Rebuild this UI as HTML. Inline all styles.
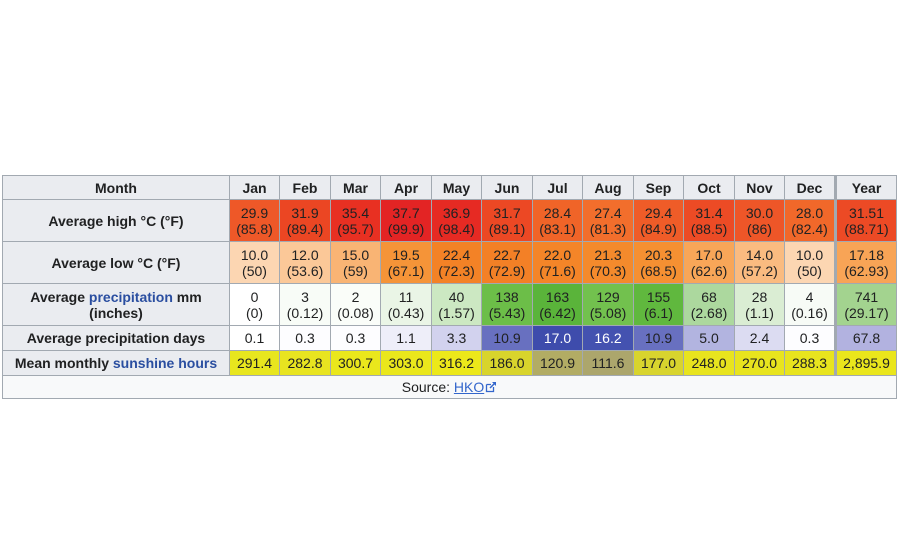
<!DOCTYPE html>
<html>
<head>
<meta charset="utf-8">
<style>
html,body{margin:0;padding:0;background:#fff;}
body{width:900px;height:550px;position:relative;overflow:hidden;font-family:"Liberation Sans",Arial,sans-serif;font-size:14px;color:#202122;}
#t{position:absolute;left:2px;top:175px;width:895px;height:224px;background:#a2a9b1;}
.c{position:absolute;display:flex;align-items:center;justify-content:center;text-align:center;line-height:16px;box-sizing:border-box;white-space:nowrap;}
.h{background:#eaecf0;font-weight:bold;}
.l{color:#2a4ea0;}
.w{color:#fff;}
</style>
</head>
<body>
<div id="t"></div>

<!-- header row: y 176-199 -->
<div class="c h" style="left:3px;top:176px;width:226px;height:23px;">Month</div>
<div class="c h" style="left:230px;top:176px;width:49px;height:23px;">Jan</div>
<div class="c h" style="left:280px;top:176px;width:50px;height:23px;">Feb</div>
<div class="c h" style="left:331px;top:176px;width:49px;height:23px;">Mar</div>
<div class="c h" style="left:381px;top:176px;width:50px;height:23px;">Apr</div>
<div class="c h" style="left:432px;top:176px;width:49px;height:23px;">May</div>
<div class="c h" style="left:482px;top:176px;width:50px;height:23px;">Jun</div>
<div class="c h" style="left:533px;top:176px;width:49px;height:23px;">Jul</div>
<div class="c h" style="left:583px;top:176px;width:50px;height:23px;">Aug</div>
<div class="c h" style="left:634px;top:176px;width:49px;height:23px;">Sep</div>
<div class="c h" style="left:684px;top:176px;width:50px;height:23px;">Oct</div>
<div class="c h" style="left:735px;top:176px;width:49px;height:23px;">Nov</div>
<div class="c h" style="left:785px;top:176px;width:49px;height:23px;">Dec</div>
<div class="c h" style="left:837px;top:176px;width:59px;height:23px;">Year</div>

<!-- high row -->
<div class="c h" style="left:3px;top:200px;width:226px;height:41px;">Average high °C (°F)</div>
<div class="c" style="left:230px;top:200px;width:49px;height:41px;background:rgb(238,88,40);"><div>29.9<br>(85.8)</div></div>
<div class="c" style="left:280px;top:200px;width:50px;height:41px;background:rgb(235,70,35);"><div>31.9<br>(89.4)</div></div>
<div class="c" style="left:331px;top:200px;width:49px;height:41px;background:rgb(232,48,34);"><div>35.4<br>(95.7)</div></div>
<div class="c" style="left:381px;top:200px;width:50px;height:41px;background:rgb(227,36,36);"><div>37.7<br>(99.9)</div></div>
<div class="c" style="left:432px;top:200px;width:49px;height:41px;background:rgb(230,42,35);"><div>36.9<br>(98.4)</div></div>
<div class="c" style="left:482px;top:200px;width:50px;height:41px;background:rgb(236,72,36);"><div>31.7<br>(89.1)</div></div>
<div class="c" style="left:533px;top:200px;width:49px;height:41px;background:rgb(240,100,40);"><div>28.4<br>(83.1)</div></div>
<div class="c" style="left:583px;top:200px;width:50px;height:41px;background:rgb(242,110,44);"><div>27.4<br>(81.3)</div></div>
<div class="c" style="left:634px;top:200px;width:49px;height:41px;background:rgb(239,92,40);"><div>29.4<br>(84.9)</div></div>
<div class="c" style="left:684px;top:200px;width:50px;height:41px;background:rgb(236,75,37);"><div>31.4<br>(88.5)</div></div>
<div class="c" style="left:735px;top:200px;width:49px;height:41px;background:rgb(238,86,40);"><div>30.0<br>(86)</div></div>
<div class="c" style="left:785px;top:200px;width:49px;height:41px;background:rgb(241,104,42);"><div>28.0<br>(82.4)</div></div>
<div class="c" style="left:837px;top:200px;width:59px;height:41px;background:rgb(236,74,37);"><div>31.51<br>(88.71)</div></div>

<!-- low row -->
<div class="c h" style="left:3px;top:242px;width:226px;height:41px;">Average low °C (°F)</div>
<div class="c" style="left:230px;top:242px;width:49px;height:41px;background:rgb(252,214,178);"><div>10.0<br>(50)</div></div>
<div class="c" style="left:280px;top:242px;width:50px;height:41px;background:rgb(251,200,152);"><div>12.0<br>(53.6)</div></div>
<div class="c" style="left:331px;top:242px;width:49px;height:41px;background:rgb(249,180,116);"><div>15.0<br>(59)</div></div>
<div class="c" style="left:381px;top:242px;width:50px;height:41px;background:rgb(245,148,56);"><div>19.5<br>(67.1)</div></div>
<div class="c" style="left:432px;top:242px;width:49px;height:41px;background:rgb(243,130,38);"><div>22.4<br>(72.3)</div></div>
<div class="c" style="left:482px;top:242px;width:50px;height:41px;background:rgb(243,128,38);"><div>22.7<br>(72.9)</div></div>
<div class="c" style="left:533px;top:242px;width:49px;height:41px;background:rgb(244,133,40);"><div>22.0<br>(71.6)</div></div>
<div class="c" style="left:583px;top:242px;width:50px;height:41px;background:rgb(244,138,44);"><div>21.3<br>(70.3)</div></div>
<div class="c" style="left:634px;top:242px;width:49px;height:41px;background:rgb(245,144,50);"><div>20.3<br>(68.5)</div></div>
<div class="c" style="left:684px;top:242px;width:50px;height:41px;background:rgb(248,166,88);"><div>17.0<br>(62.6)</div></div>
<div class="c" style="left:735px;top:242px;width:49px;height:41px;background:rgb(250,187,128);"><div>14.0<br>(57.2)</div></div>
<div class="c" style="left:785px;top:242px;width:49px;height:41px;background:rgb(252,214,178);"><div>10.0<br>(50)</div></div>
<div class="c" style="left:837px;top:242px;width:59px;height:41px;background:rgb(248,164,86);"><div>17.18<br>(62.93)</div></div>

<!-- precip row -->
<div class="c h" style="left:3px;top:284px;width:226px;height:41px;"><div>Average <span class="l">precipitation</span> mm<br>(inches)</div></div>
<div class="c" style="left:230px;top:284px;width:49px;height:41px;background:#fff;"><div>0<br>(0)</div></div>
<div class="c" style="left:280px;top:284px;width:50px;height:41px;background:rgb(248,252,247);"><div>3<br>(0.12)</div></div>
<div class="c" style="left:331px;top:284px;width:49px;height:41px;background:rgb(250,253,249);"><div>2<br>(0.08)</div></div>
<div class="c" style="left:381px;top:284px;width:50px;height:41px;background:rgb(234,245,230);"><div>11<br>(0.43)</div></div>
<div class="c" style="left:432px;top:284px;width:49px;height:41px;background:rgb(204,232,194);"><div>40<br>(1.57)</div></div>
<div class="c" style="left:482px;top:284px;width:50px;height:41px;background:rgb(108,190,72);"><div>138<br>(5.43)</div></div>
<div class="c" style="left:533px;top:284px;width:49px;height:41px;background:rgb(90,180,58);"><div>163<br>(6.42)</div></div>
<div class="c" style="left:583px;top:284px;width:50px;height:41px;background:rgb(114,193,78);"><div>129<br>(5.08)</div></div>
<div class="c" style="left:634px;top:284px;width:49px;height:41px;background:rgb(96,184,62);"><div>155<br>(6.1)</div></div>
<div class="c" style="left:684px;top:284px;width:50px;height:41px;background:rgb(172,216,158);"><div>68<br>(2.68)</div></div>
<div class="c" style="left:735px;top:284px;width:49px;height:41px;background:rgb(218,237,211);"><div>28<br>(1.1)</div></div>
<div class="c" style="left:785px;top:284px;width:49px;height:41px;background:rgb(247,251,246);"><div>4<br>(0.16)</div></div>
<div class="c" style="left:837px;top:284px;width:59px;height:41px;background:rgb(163,211,143);"><div>741<br>(29.17)</div></div>

<!-- days row -->
<div class="c h" style="left:3px;top:326px;width:226px;height:24px;">Average precipitation days</div>
<div class="c" style="left:230px;top:326px;width:49px;height:24px;background:#fff;">0.1</div>
<div class="c" style="left:280px;top:326px;width:50px;height:24px;background:rgb(253,253,255);">0.3</div>
<div class="c" style="left:331px;top:326px;width:49px;height:24px;background:rgb(253,253,255);">0.3</div>
<div class="c" style="left:381px;top:326px;width:50px;height:24px;background:rgb(238,238,249);">1.1</div>
<div class="c" style="left:432px;top:326px;width:49px;height:24px;background:rgb(210,210,238);">3.3</div>
<div class="c" style="left:482px;top:326px;width:50px;height:24px;background:rgb(104,112,192);">10.9</div>
<div class="c w" style="left:533px;top:326px;width:49px;height:24px;background:rgb(62,76,172);">17.0</div>
<div class="c w" style="left:583px;top:326px;width:50px;height:24px;background:rgb(68,82,176);">16.2</div>
<div class="c" style="left:634px;top:326px;width:49px;height:24px;background:rgb(104,112,192);">10.9</div>
<div class="c" style="left:684px;top:326px;width:50px;height:24px;background:rgb(178,180,224);">5.0</div>
<div class="c" style="left:735px;top:326px;width:49px;height:24px;background:rgb(220,220,242);">2.4</div>
<div class="c" style="left:785px;top:326px;width:49px;height:24px;background:rgb(253,253,255);">0.3</div>
<div class="c" style="left:837px;top:326px;width:59px;height:24px;background:rgb(178,178,224);">67.8</div>

<!-- sunshine row -->
<div class="c h" style="left:3px;top:351px;width:226px;height:24px;"><div>Mean monthly <span class="l">sunshine hours</span></div></div>
<div class="c" style="left:230px;top:351px;width:49px;height:24px;background:rgb(232,230,30);">291.4</div>
<div class="c" style="left:280px;top:351px;width:50px;height:24px;background:rgb(232,228,32);">282.8</div>
<div class="c" style="left:331px;top:351px;width:49px;height:24px;background:rgb(234,231,28);">300.7</div>
<div class="c" style="left:381px;top:351px;width:50px;height:24px;background:rgb(234,231,28);">303.0</div>
<div class="c" style="left:432px;top:351px;width:49px;height:24px;background:rgb(236,232,26);">316.2</div>
<div class="c" style="left:482px;top:351px;width:50px;height:24px;background:rgb(216,212,44);">186.0</div>
<div class="c" style="left:533px;top:351px;width:49px;height:24px;background:rgb(178,172,100);">120.9</div>
<div class="c" style="left:583px;top:351px;width:50px;height:24px;background:rgb(172,166,108);">111.6</div>
<div class="c" style="left:634px;top:351px;width:49px;height:24px;background:rgb(216,212,46);">177.0</div>
<div class="c" style="left:684px;top:351px;width:50px;height:24px;background:rgb(232,228,30);">248.0</div>
<div class="c" style="left:735px;top:351px;width:49px;height:24px;background:rgb(232,228,30);">270.0</div>
<div class="c" style="left:785px;top:351px;width:49px;height:24px;background:rgb(232,228,30);">288.3</div>
<div class="c" style="left:837px;top:351px;width:59px;height:24px;background:rgb(234,230,28);">2,895.9</div>

<!-- source row -->
<div class="c" style="left:3px;top:376px;width:893px;height:22px;background:#f8f9fa;"><div>Source: <span style="color:#3366cc;text-decoration:underline;">HKO</span><svg width="12" height="12" viewBox="0 0 12 12" style="margin-left:1px;vertical-align:-1px;"><path d="M1.5 3.5 H6 M1.5 3.5 V10.5 H8.5 V6" fill="none" stroke="#3366cc" stroke-width="1.3"/><path d="M7 1 H11 V5 Z" fill="#3366cc"/><path d="M10 2 L5 7" stroke="#3366cc" stroke-width="1.5"/></svg></div></div>
</body>
</html>
